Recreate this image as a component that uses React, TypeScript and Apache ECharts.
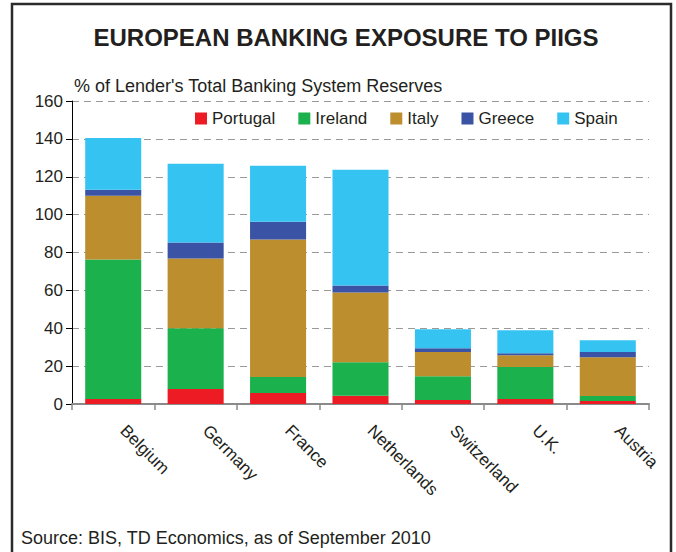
import React, { useEffect, useRef } from "react";
import * as echarts from "echarts";

const categories = ["Belgium", "Germany", "France", "Netherlands", "Switzerland", "U.K.", "Austria"];
const portugal = [2.6, 7.9, 5.8, 4.4, 2.1, 2.6, 1.6];
const ireland = [73.7, 32.1, 8.4, 17.7, 12.6, 16.9, 2.6];
const italy = [33.7, 36.8, 72.6, 36.8, 12.7, 6.3, 20.5];
const greece = [3.2, 8.5, 9.5, 3.7, 2.1, 1.0, 2.7];
const spain = [27.3, 41.5, 29.5, 61.1, 10.0, 12.1, 6.3];
const seriesNames = ["Portugal", "Ireland", "Italy", "Greece", "Spain"];
const seriesColors = ["#ED1C24", "#1BB14C", "#BC8E2E", "#3A53A4", "#35C4F2"];
const yTicks = { min: 0, max: 160, interval: 20 };

const FONT = "'Liberation Sans', Arial, Helvetica, sans-serif";
const TXT = "#231F20";

export default function App() {
  const ref = useRef<HTMLDivElement>(null);
  useEffect(() => {
    if (!ref.current) return;
    const chart = echarts.init(ref.current, null, { renderer: "svg" });
    const values = [portugal, ireland, italy, greece, spain];
    chart.setOption({
      animation: false,
      backgroundColor: "#ffffff",
      textStyle: { fontFamily: FONT, color: TXT },
      graphic: [
        {
          type: "rect",
          shape: { x: 12, y: 4, width: 659, height: 600 },
          style: { fill: "none", stroke: "#2b2b2b", lineWidth: 2.5 },
          silent: true,
        },
        {
          type: "text",
          x: 346,
          y: 37,
          style: {
            text: "EUROPEAN BANKING EXPOSURE TO PIIGS",
            font: `bold 24px ${FONT}`,
            fill: TXT,
            textAlign: "center",
            textVerticalAlign: "middle",
          },
        },
        {
          type: "text",
          x: 74,
          y: 86,
          style: {
            text: "% of Lender's Total Banking System Reserves",
            font: `18px ${FONT}`,
            fill: TXT,
            textAlign: "left",
            textVerticalAlign: "middle",
          },
        },
        {
          type: "text",
          x: 21,
          y: 538,
          style: {
            text: "Source: BIS, TD Economics, as of September 2010",
            font: `18px ${FONT}`,
            fill: TXT,
            textAlign: "left",
            textVerticalAlign: "middle",
          },
        },
      ],
      legend: {
        data: seriesNames,
        left: 195,
        top: 110,
        itemWidth: 12,
        itemHeight: 12,
        itemGap: 23,
        icon: "rect",
        textStyle: { fontSize: 17, color: TXT, fontFamily: FONT, padding: [0, 0, 0, 0] },
        padding: 0,
      },
      grid: { left: 72, right: 27, top: 101, bottom: 148, containLabel: false },
      xAxis: {
        type: "category",
        data: categories,
        boundaryGap: true,
        axisLine: { lineStyle: { color: "#8a8a8a", width: 2 } },
        axisTick: { show: true, alignWithLabel: false, length: 6, lineStyle: { color: "#8a8a8a", width: 1.5 } },
        axisLabel: {
          rotate: -45,
          margin: 14,
          padding: [0, 0, 0, 14],
          fontSize: 17,
          color: TXT,
          fontFamily: FONT,
          interval: 0,
        },
      },
      yAxis: {
        type: "value",
        min: yTicks.min,
        max: yTicks.max,
        interval: yTicks.interval,
        axisLine: { show: true, lineStyle: { color: "#000", width: 1 } },
        axisTick: { show: true, length: 6, lineStyle: { color: "#000" } },
        axisLabel: { fontSize: 17, color: TXT, fontFamily: FONT, margin: 9 },
        splitLine: { show: true, lineStyle: { color: "#9a9a9a", width: 1, type: [7, 5] } },
      },
      series: seriesNames.map((name, i) => ({
        name,
        type: "bar",
        stack: "total",
        data: values[i],
        barWidth: "68%",
        itemStyle: { color: seriesColors[i] },
        emphasis: { disabled: true },
      })),
    });
    return () => chart.dispose();
  }, []);
  return (
    <div
      ref={ref}
      style={{ position: "fixed", left: 0, top: 0, width: 676, height: 552, background: "#fff" }}
    />
  );
}
